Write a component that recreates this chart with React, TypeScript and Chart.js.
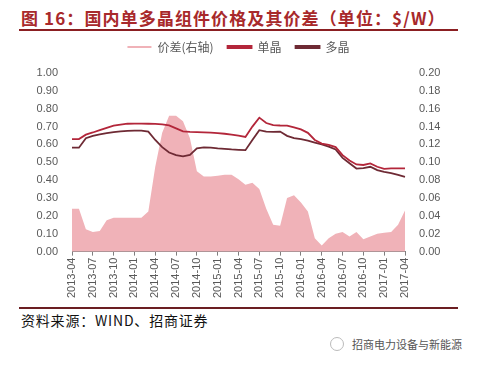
import React, { useEffect, useRef } from "react";
import { Chart, registerables } from "chart.js";

Chart.register(...registerables);

const months: string[] = [
  "2013-04","2013-05","2013-06","2013-07","2013-08","2013-09","2013-10","2013-11","2013-12",
  "2014-01","2014-02","2014-03","2014-04","2014-05","2014-06","2014-07","2014-08","2014-09","2014-10","2014-11","2014-12",
  "2015-01","2015-02","2015-03","2015-04","2015-05","2015-06","2015-07","2015-08","2015-09","2015-10","2015-11","2015-12",
  "2016-01","2016-02","2016-03","2016-04","2016-05","2016-06","2016-07","2016-08","2016-09","2016-10","2016-11","2016-12",
  "2017-01","2017-02","2017-03","2017-04",
];

const spread: number[] = [
  0.048, 0.048, 0.025, 0.022, 0.023, 0.035, 0.038, 0.038, 0.038,
  0.038, 0.038, 0.045, 0.095, 0.133, 0.152, 0.152, 0.146, 0.127, 0.09, 0.084, 0.084,
  0.085, 0.086, 0.086, 0.081, 0.075, 0.077, 0.07, 0.048, 0.03, 0.029, 0.06, 0.063,
  0.055, 0.045, 0.015, 0.007, 0.015, 0.02, 0.022, 0.017, 0.022, 0.014, 0.017, 0.02,
  0.021, 0.022, 0.03, 0.046,
];

const mono: number[] = [
  0.63, 0.63, 0.655, 0.667, 0.68, 0.693, 0.705, 0.711, 0.716,
  0.717, 0.717, 0.716, 0.715, 0.712, 0.707, 0.69, 0.673, 0.67, 0.669, 0.668, 0.666,
  0.663, 0.66, 0.655, 0.649, 0.642, 0.7, 0.75, 0.72, 0.708, 0.706, 0.705, 0.696,
  0.684, 0.665, 0.625, 0.605, 0.598, 0.585, 0.54, 0.51, 0.488, 0.485, 0.494, 0.475,
  0.463, 0.466, 0.466, 0.466,
];

const poly: number[] = [
  0.582, 0.582, 0.635, 0.648, 0.657, 0.663, 0.669, 0.673, 0.676,
  0.677, 0.677, 0.672, 0.625, 0.585, 0.555, 0.54, 0.533, 0.542, 0.578, 0.584, 0.582,
  0.578, 0.575, 0.572, 0.57, 0.568, 0.625, 0.68, 0.672, 0.67, 0.672, 0.648, 0.635,
  0.63, 0.622, 0.61, 0.6, 0.588, 0.572, 0.525, 0.495, 0.465, 0.468, 0.475, 0.456,
  0.447, 0.44, 0.43, 0.419,
];

const seriesNames: string[] = ["价差(右轴)", "单晶", "多晶"];

const FONT = "'Liberation Sans', Arial, 'Noto Sans CJK SC', sans-serif";
const CJK = "'Noto Sans CJK SC', sans-serif";

const legendGap = {
  id: "legendGap",
  beforeLayout(chart: any) {
    const lg = chart.legend;
    if (lg && !lg._gapPatched) {
      const orig = lg.fit.bind(lg);
      lg.fit = function () {
        orig();
        this.height += 10;
      };
      lg._gapPatched = true;
    }
  },
};

export default function App() {
  const ref = useRef<HTMLCanvasElement | null>(null);

  useEffect(() => {
    if (!ref.current) return;
    const chart = new Chart(ref.current, {
      type: "line",
      data: {
        labels: months,
        datasets: [
          {
            label: seriesNames[0],
            data: spread,
            yAxisID: "y1",
            fill: "origin",
            backgroundColor: "rgb(240,178,184)",
            borderColor: "rgb(240,178,184)",
            borderWidth: 0,
            pointRadius: 0,
            tension: 0,
          },
          {
            label: seriesNames[1],
            data: mono,
            yAxisID: "y",
            fill: false,
            borderColor: "#B3263A",
            backgroundColor: "#B3263A",
            borderWidth: 1.8,
            pointRadius: 0,
            tension: 0,
          },
          {
            label: seriesNames[2],
            data: poly,
            yAxisID: "y",
            fill: false,
            borderColor: "#6E2A34",
            backgroundColor: "#6E2A34",
            borderWidth: 1.8,
            pointRadius: 0,
            tension: 0,
          },
        ],
      },
      plugins: [legendGap],
      options: {
        animation: false,
        responsive: true,
        maintainAspectRatio: false,
        layout: { padding: { left: 0, right: 0, top: 0, bottom: 0 } },
        plugins: {
          filler: { drawTime: "beforeDatasetsDraw" },
          tooltip: { enabled: false },
          legend: {
            display: true,
            position: "top",
            labels: {
              boxWidth: 24,
              boxHeight: 2,
              padding: 14,
              color: "#595959",
              font: { family: CJK, size: 12 },
            },
          },
        },
        scales: {
          x: {
            type: "category",
            offset: false,
            grid: {
              display: true,
              drawOnChartArea: false,
              drawTicks: true,
              tickLength: 4,
              tickColor: (ctx: any) => (ctx.index % 3 === 0 ? "#7f7f7f" : "rgba(0,0,0,0)"),
            },
            border: { display: true, color: "#7f7f7f", width: 1 },
            ticks: {
              autoSkip: false,
              maxRotation: 90,
              minRotation: 90,
              padding: 2,
              color: "#595959",
              font: { family: FONT, size: 11 },
              callback: (_v: any, i: number) => (i % 3 === 0 ? months[i] : ""),
            },
          },
          y: {
            position: "left",
            min: 0,
            max: 1,
            grid: { display: false },
            border: { display: false },
            ticks: {
              stepSize: 0.1,
              padding: 6,
              color: "#595959",
              font: { family: FONT, size: 11 },
              callback: (v: any) => Number(v).toFixed(2),
            },
            afterFit: (s: any) => {
              s.width = 72;
            },
          },
          y1: {
            position: "right",
            min: 0,
            max: 0.2,
            grid: { display: false },
            border: { display: false },
            ticks: {
              stepSize: 0.02,
              padding: 6,
              color: "#595959",
              font: { family: FONT, size: 11 },
              callback: (v: any) => Number(v).toFixed(2),
            },
            afterFit: (s: any) => {
              s.width = 72;
            },
          },
        },
      },
    });
    return () => chart.destroy();
  }, []);

  return (
    <div
      style={{
        position: "fixed",
        left: 0,
        top: 0,
        width: 477,
        height: 365,
        background: "#fff",
        overflow: "hidden",
      }}
    >
      <div
        style={{
          position: "absolute",
          left: 21,
          top: 6,
          fontFamily: CJK,
          fontWeight: 700,
          fontSize: 17,
          color: "#A8292B",
          whiteSpace: "nowrap",
          letterSpacing: 1.1,
          lineHeight: "24px",
        }}
      >
        图 16：国内单多晶组件价格及其价差（单位：$/W）
      </div>
      <div
        style={{
          position: "absolute",
          left: 19,
          top: 29,
          width: 439,
          height: 2,
          background: "#8B1F22",
        }}
      />
      <div style={{ position: "absolute", left: 0, top: 27, width: 477, height: 273 }}>
        <canvas ref={ref} />
      </div>
      <div
        style={{
          position: "absolute",
          left: 19,
          top: 307,
          width: 439,
          height: 2,
          background: "#6B1E22",
        }}
      />
      <div
        style={{
          position: "absolute",
          left: 21,
          top: 310,
          fontFamily: CJK,
          fontSize: 14,
          color: "#111",
          whiteSpace: "nowrap",
          letterSpacing: 0.8,
          lineHeight: "20px",
        }}
      >
        资料来源：WIND、招商证券
      </div>
      <div
        style={{
          position: "absolute",
          left: 330,
          top: 337,
          width: 14,
          height: 14,
          borderRadius: 7,
          border: "1px solid #bbb",
          boxSizing: "border-box",
        }}
      />
      <div
        style={{
          position: "absolute",
          left: 352,
          top: 336,
          fontFamily: CJK,
          fontSize: 11,
          color: "#555",
          whiteSpace: "nowrap",
          lineHeight: "16px",
        }}
      >
        招商电力设备与新能源
      </div>
    </div>
  );
}
